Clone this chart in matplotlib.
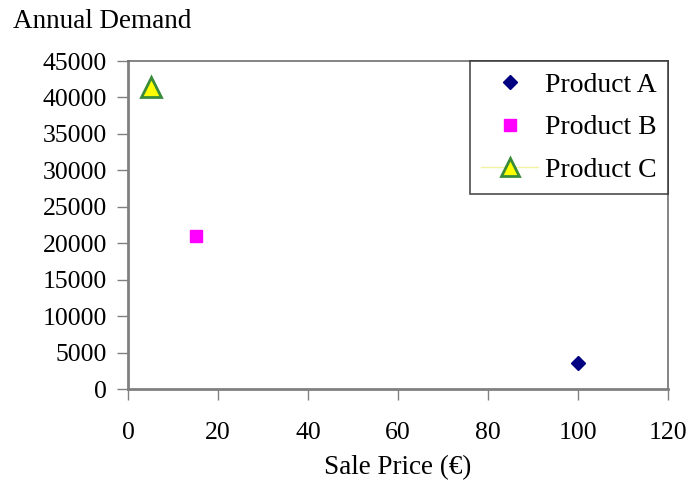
import matplotlib
matplotlib.use("Agg")
import matplotlib.pyplot as plt
from matplotlib.lines import Line2D

products = ["Product A", "Product B", "Product C"]
sale_price = [100, 15, 5]
annual_demand = [3500, 21000, 41500]
markers = ["D", "s", "^"]
face_colors = ["#000080", "#FF00FF", "#FFFF00"]
edge_colors = ["#000080", "#FF00FF", "#3A8C3A"]
marker_sizes = [7, 9, 15]

x_ticks = [0, 20, 40, 60, 80, 100, 120]
y_ticks = list(range(0, 45001, 5000))

plt.rcParams["font.family"] = ["Liberation Serif", "DejaVu Serif"]

fig = plt.figure(figsize=(6.89, 4.82), dpi=100)
ax = fig.add_axes([128 / 689, 1 - 389 / 482, 540 / 689, 328 / 482])

handles = []
for name, x, y, m, fc, ec, ms in zip(products, sale_price, annual_demand,
                                     markers, face_colors, edge_colors, marker_sizes):
    ax.plot([x], [y], linestyle="none", marker=m, markersize=ms,
            markerfacecolor=fc, markeredgecolor=ec,
            markeredgewidth=2 if m == "^" else 1)
    handles.append(Line2D([], [], linestyle="-" if m == "^" else "none",
                          color="#F2F2A0", linewidth=1,
                          marker=m, markersize=ms * (0.85 if m == "^" else 1),
                          markerfacecolor=fc, markeredgecolor=ec,
                          markeredgewidth=2 if m == "^" else 1, label=name))

ax.set_xlim(0, 120)
ax.set_ylim(0, 45000)
ax.set_xticks(x_ticks)
ax.set_yticks(y_ticks)
ax.tick_params(direction="out", length=8, width=1, color="#808080",
               labelsize=18.5, labelcolor="black")
ax.tick_params(axis="x", pad=16)
ax.tick_params(axis="y", pad=7)
for side in ("left", "bottom"):
    ax.spines[side].set_color("#808080")
    ax.spines[side].set_linewidth(2)
for side in ("top", "right"):
    ax.spines[side].set_color("#707070")
    ax.spines[side].set_linewidth(1.2)

ax.set_xlabel("Sale Price (€)", fontsize=19.5, labelpad=8)
fig.text(13 / 689, 1 - 21 / 482, "Annual Demand", fontsize=19.5, va="center", ha="left")

leg = ax.legend(handles=handles, loc="upper right", fontsize=20, frameon=True,
                fancybox=False, edgecolor="#202020", borderaxespad=0,
                handletextpad=0.25, labelspacing=0.62, borderpad=0.4,
                handlelength=2.05)
leg.get_frame().set_linewidth(1.2)

fig.savefig("out.png", dpi=100)
